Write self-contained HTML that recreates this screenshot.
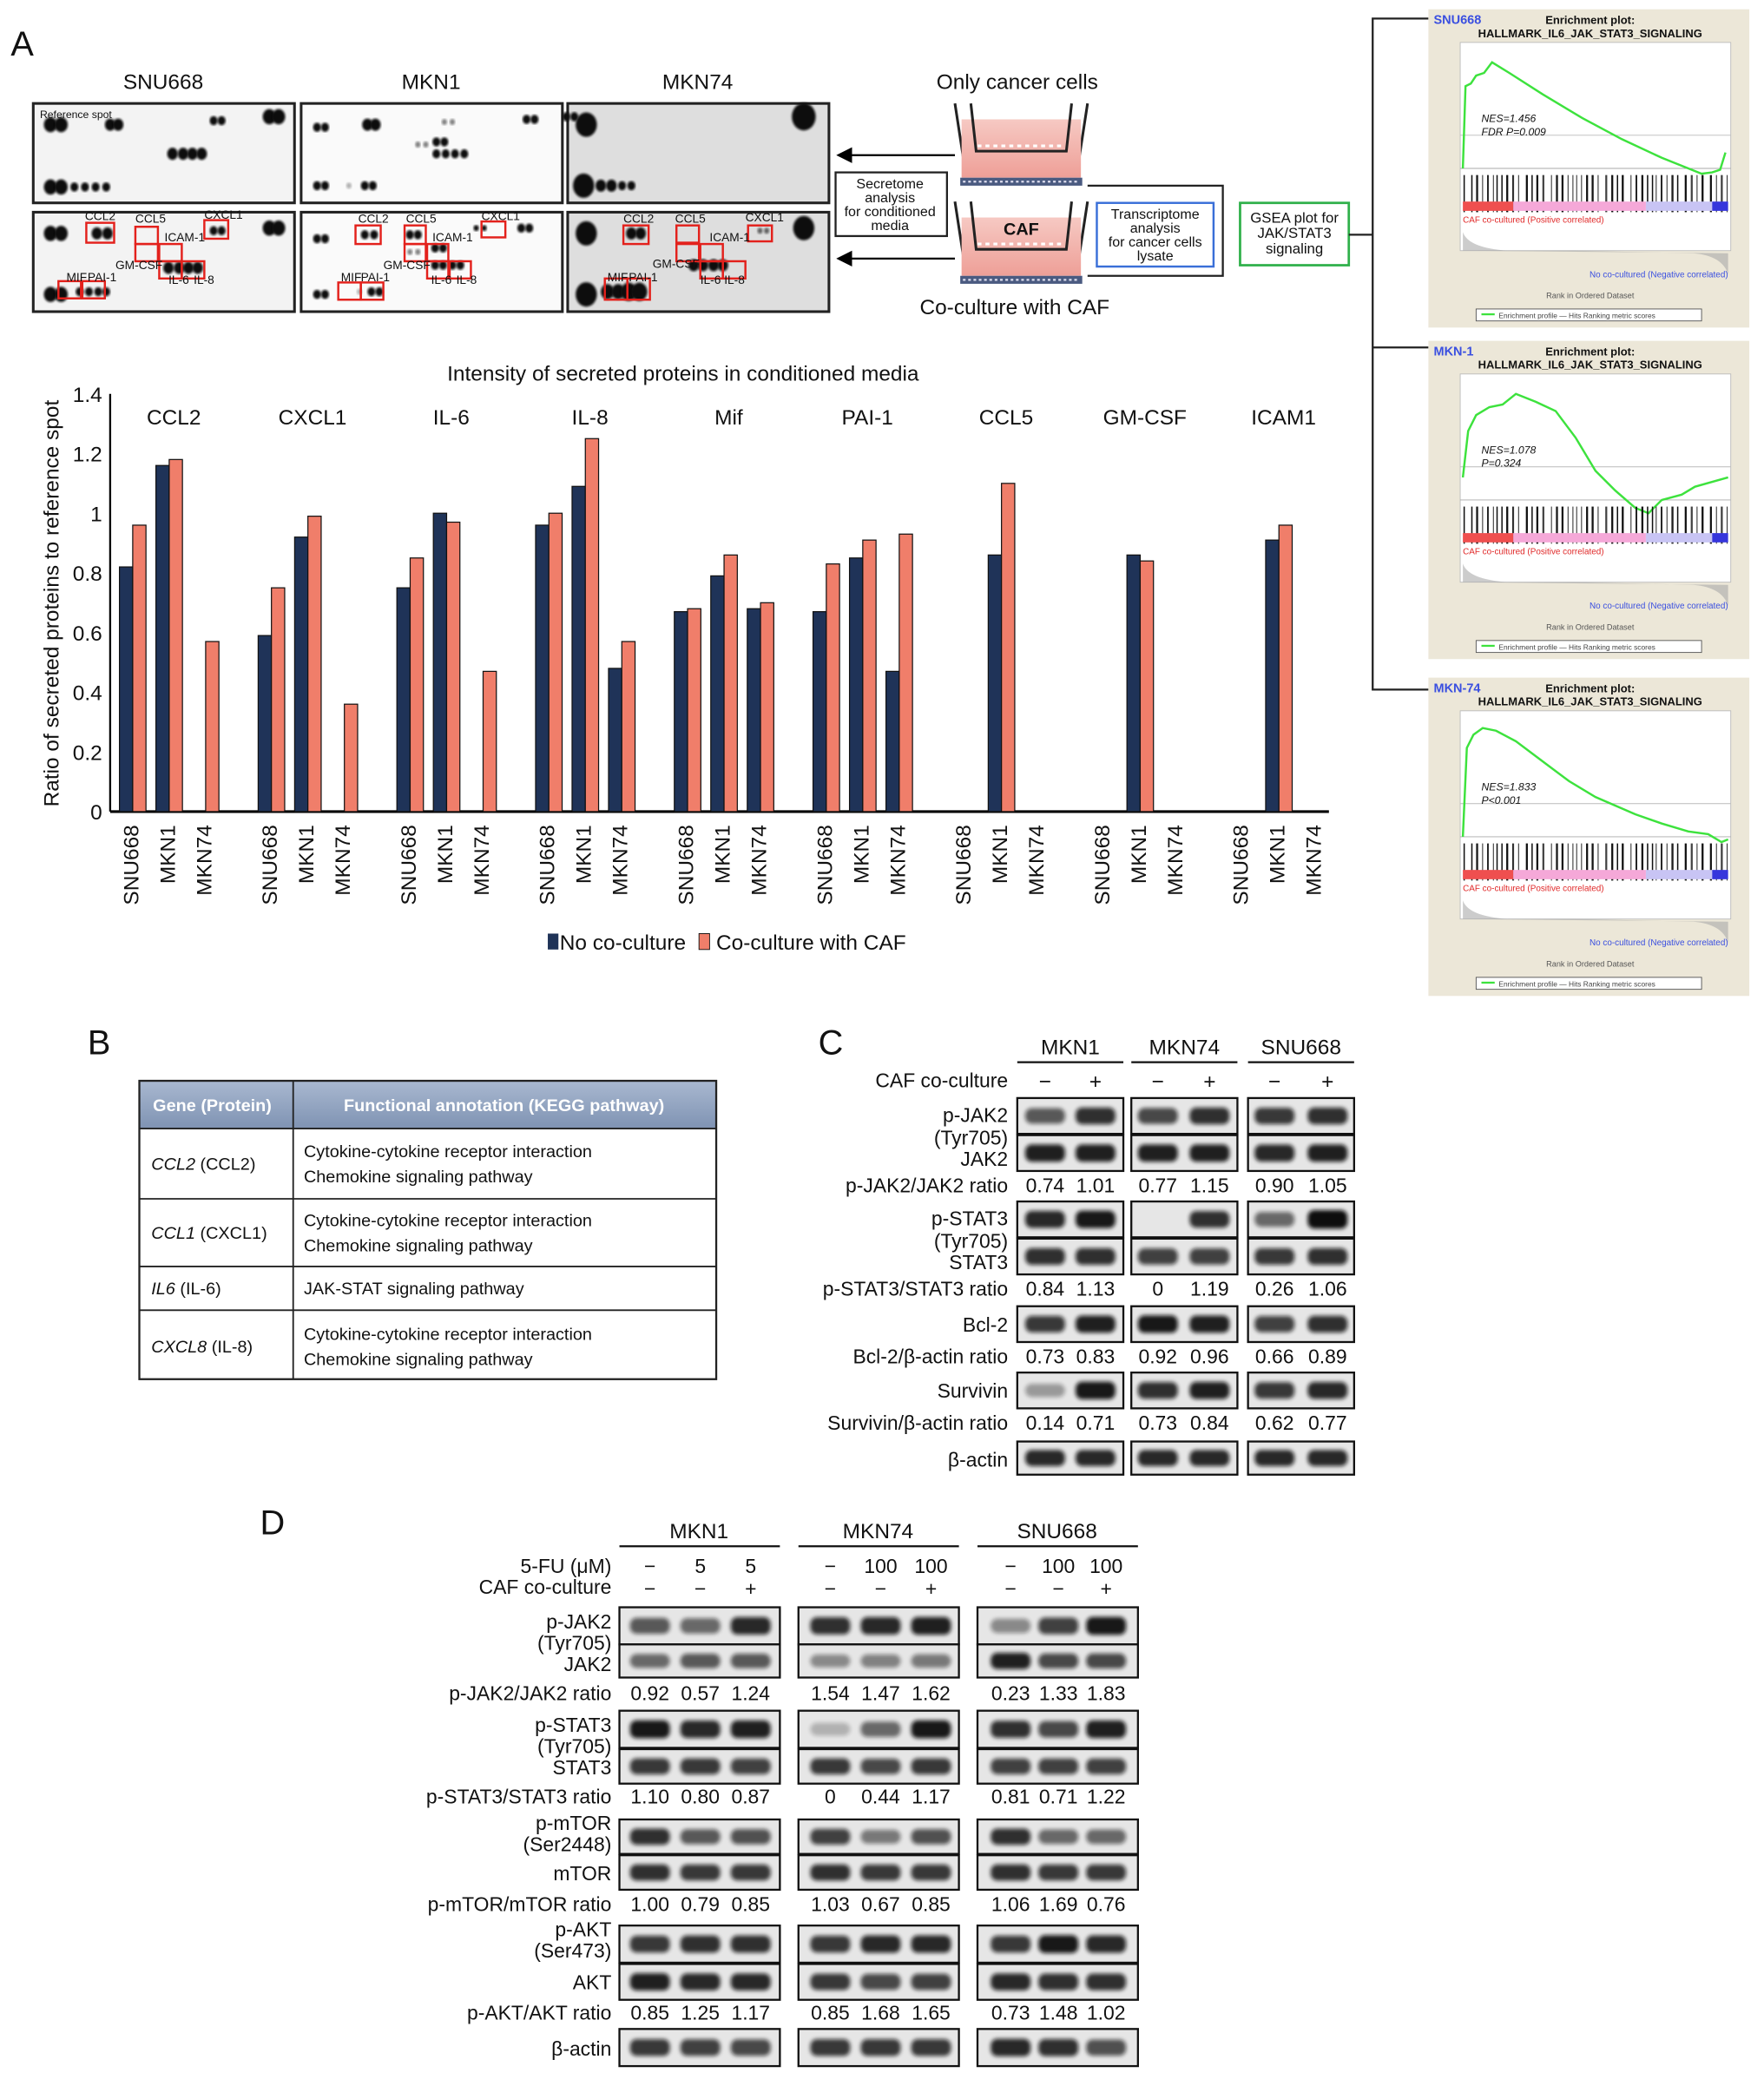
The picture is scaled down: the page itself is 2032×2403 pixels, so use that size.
<!DOCTYPE html>
<html><head><meta charset="utf-8"><style>
html,body{margin:0;padding:0;background:#fff}
svg{display:block;font-family:"Liberation Sans",Arial,sans-serif}
</style></head><body>
<svg id="fig" width="2032" height="2403" viewBox="0 0 1330 1573" xmlns="http://www.w3.org/2000/svg">
<defs>
<filter id="blur" x="-20%" y="-50%" width="140%" height="200%"><feGaussianBlur stdDeviation="1.6"/></filter>
<filter id="blur2"><feGaussianBlur stdDeviation="0.8"/></filter>
<linearGradient id="hdr" x1="0" y1="0" x2="0" y2="1"><stop offset="0" stop-color="#a9b8d0"/><stop offset="1" stop-color="#7f93b3"/></linearGradient>
<linearGradient id="pink" x1="0" y1="0" x2="0" y2="1"><stop offset="0" stop-color="#f6c9c3"/><stop offset="1" stop-color="#ee9f97"/></linearGradient>
<marker id="arr" markerWidth="8" markerHeight="8" refX="7" refY="4" orient="auto"><path d="M0,0 L8,4 L0,8 z" fill="#000"/></marker>
</defs>
<g id="root"></g>
</svg>
<script>
// ===== Chart data (panel A bar chart) =====
const proteins = ["CCL2","CXCL1","IL-6","IL-8","Mif","PAI-1","CCL5","GM-CSF","ICAM1"];
const cellLines = ["SNU668","MKN1","MKN74"];
const noCoculture = [
  [0.82,1.16,0],[0.59,0.92,0],[0.75,1.00,0],[0.96,1.09,0.48],[0.67,0.79,0.68],
  [0.67,0.85,0.47],[0,0.86,0],[0,0.86,0],[0,0.91,0]];
const withCAF = [
  [0.96,1.18,0.57],[0.75,0.99,0.36],[0.85,0.97,0.47],[1.00,1.25,0.57],[0.68,0.86,0.70],
  [0.83,0.91,0.93],[0,1.10,0],[0,0.84,0],[0,0.96,0]];
const yTicks = [0,0.2,0.4,0.6,0.8,1,1.2,1.4];
const yTickLabels = ["0","0.2","0.4","0.6","0.8","1","1.2","1.4"];

const NS="http://www.w3.org/2000/svg";
const root=document.getElementById('root');
function el(tag,attrs,parent,txt){const e=document.createElementNS(NS,tag);for(const k in attrs)e.setAttribute(k,attrs[k]);if(txt!==undefined)e.textContent=txt;(parent||root).appendChild(e);return e;}
function T(x,y,s,txt,opt){opt=opt||{};const t=el('text',{x:x,y:y,'font-size':s,'text-anchor':opt.a||'start',fill:opt.f||'#111','font-weight':opt.w||'normal','font-style':opt.i||'normal'},opt.p,txt);if(opt.tr)t.setAttribute('transform',opt.tr);return t;}

T(8,42,26,"A",{n:'panel-a-letter'});T(66,795,26,"B",{n:'panel-b-letter'});T(617,795,26,"C",{n:'panel-c-letter'});T(196,1157,26,"D",{n:'panel-d-letter'});

// ===== Dot blot arrays =====
const dotG=el('g',{});
const blotCols=[{x:25,n:"SNU668",bg:"#f3f3f3"},{x:227,n:"MKN1",bg:"#fafafa"},{x:428,n:"MKN74",bg:"#dedede"}];
blotCols.forEach((c,i)=>{T(c.x+98,67,16,c.n,{a:'middle',n:'array-title-'+c.n.toLowerCase(),p:dotG});
  [78,160].forEach((y,r)=>{const b=el('rect',{x:c.x,y:y,width:197,height:75,fill:c.bg,stroke:'#222','stroke-width':2},dotG);});});
function dots(list,ox,oy,r){list.forEach(d=>{el('ellipse',{cx:ox+d[0],cy:oy+d[1],rx:d[2]||r,ry:(d[2]||r)*1.15,fill:'#111',opacity:d[3]||1,filter:'url(#blur2)'},dotG);});}
dots([[13,16,5],[21,16,5],[58,16,4],[64,16,4],[136,13,3],[142,13,3],[178,10,5],[185,10,5],[105,38,4],[113,38,4],[120,38,4],[127,38,4],[13,63,5],[21,63,5],[31,63,3],[39,63,3],[47,63,3],[55,63,3]],25,78,4);
dots([[12,18,3],[18,18,3],[50,16,4],[56,16,4],[108,14,2,0.5],[114,14,2,0.5],[170,12,3],[176,12,3],[200,10,3],[206,10,3],[88,31,2,0.5],[94,31,2,0.5],[102,29,3],[108,29,3],[102,38,3],[109,38,3],[116,38,3],[123,38,3],[12,62,3],[18,62,3],[36,62,2,0.3],[48,62,3],[54,62,3]],227,78,3);
dots([[14,16,8],[178,10,9],[12,62,8],[25,62,4],[33,62,4],[41,62,3],[48,62,3]],428,78,4);
dots([[13,16,5],[21,16,5],[48,16,4],[56,16,4],[136,14,3],[142,14,3],[178,12,5],[185,12,5],[102,42,4],[110,42,4],[117,42,4],[124,42,4],[13,62,5],[21,62,5],[35,60,3],[42,60,3],[49,60,3],[55,60,3]],25,160,4);
dots([[12,20,3],[18,20,3],[48,17,3],[55,17,3],[82,17,3],[88,17,3],[132,12,2],[138,12,2],[166,12,3],[172,12,3],[82,30,2,0.5],[88,30,2,0.5],[101,27,3],[107,27,3],[101,40,3],[107,40,3],[114,40,3],[120,40,3],[12,62,3],[18,62,3],[44,60,2,0.3],[53,60,3],[59,60,3]],227,160,3);
dots([[14,16,8],[48,16,4],[55,16,4],[145,14,2,0.6],[150,14,2,0.6],[178,12,8],[95,40,4],[102,40,4],[110,40,4],[117,40,4],[14,62,8],[30,60,5],[38,60,5],[46,60,6],[54,60,6]],428,160,4);
function rb(x,y,w,h){el('rect',{x:x,y:y,width:w,height:h,fill:'none',stroke:'#e3211c','stroke-width':1.6},dotG);}
function sl(x,y,t){T(x,y,9,t,{n:'spot-label',p:dotG});}
rb(65,168,21,15);rb(102,171,17,13);rb(102,184,17,13);rb(120,184,17,13);rb(120,197,17,13);rb(137,197,17,13);rb(154,166,18,14);rb(44,212,17,13);rb(62,212,17,13);
sl(64,166,"CCL2");sl(102,168,"CCL5");sl(154,165,"CXCL1");sl(124,182,"ICAM-1");sl(87,203,"GM-CSF");sl(127,214,"IL-6");sl(146,214,"IL-8");sl(50,212,"MIF");sl(66,212,"PAI-1");
rb(268,170,19,14);rb(305,170,16,14);rb(305,184,16,13);rb(322,184,16,13);rb(322,197,16,13);rb(339,197,16,13);rb(363,167,18,12);rb(255,213,17,13);rb(272,213,17,13);
sl(270,168,"CCL2");sl(306,168,"CCL5");sl(363,166,"CXCL1");sl(326,182,"ICAM-1");sl(289,203,"GM-CSF");sl(325,214,"IL-6");sl(344,214,"IL-8");sl(257,212,"MIF");sl(272,212,"PAI-1");
rb(470,170,19,14);rb(510,170,17,13);rb(510,184,17,13);rb(528,184,17,13);rb(528,197,17,13);rb(545,197,17,13);rb(564,170,18,12);rb(456,210,17,16);rb(473,210,17,16);
sl(470,168,"CCL2");sl(509,168,"CCL5");sl(562,167,"CXCL1");sl(535,182,"ICAM-1");sl(492,202,"GM-CSF");sl(528,214,"IL-6");sl(546,214,"IL-8");sl(458,212,"MIF");sl(474,212,"PAI-1");
T(30,89,8,"Reference spot",{n:'reference-spot-label',p:dotG});

// ===== Schematic =====
const sch=el('g',{});
T(767,67,16,"Only cancer cells",{a:'middle',n:'only-cancer-cells-label',p:sch});
T(765,237,16,"Co-culture with CAF",{a:'middle',n:'coculture-caf-label',p:sch});
function well(y,caf){el('path',{d:`M720 ${y} L728 ${y+52} L812 ${y+52} L820 ${y}`,fill:'none',stroke:'#222','stroke-width':2},sch);
 el('rect',{x:725,y:y+12,width:90,height:44,fill:'url(#pink)'},sch);
 el('path',{d:`M732 ${y} L736 ${y+36} L804 ${y+36} L808 ${y}`,fill:'none',stroke:'#222','stroke-width':2},sch);
 el('line',{x1:737,y1:y+32,x2:803,y2:y+32,stroke:'#fff','stroke-width':2,'stroke-dasharray':'3 3'},sch);
 el('rect',{x:724,y:y+56,width:92,height:6,fill:'#4a5a80'},sch);
 el('line',{x1:726,y1:y+59,x2:814,y2:y+59,stroke:'#dde','stroke-width':1.5,'stroke-dasharray':'2 2'},sch);
 if(caf)T(770,y+25,13,"CAF",{a:'middle',w:'bold',n:'caf-label',p:sch});}
well(78,false);well(152,true);
el('rect',{x:630,y:130,width:84,height:48,fill:'#fff',stroke:'#222','stroke-width':1.5},sch);
["Secretome","analysis","for conditioned","media"].forEach((t,i)=>T(671,142+i*10.5,10.5,t,{a:'middle',n:'secretome-box-text',p:sch}));
el('line',{x1:720,y1:117,x2:632,y2:117,stroke:'#000','stroke-width':1.5,'marker-end':'url(#arr)'},sch);
el('line',{x1:720,y1:195,x2:632,y2:195,stroke:'#000','stroke-width':1.5,'marker-end':'url(#arr)'},sch);
el('polyline',{points:'820,140 922,140 922,208 820,208',fill:'none',stroke:'#222','stroke-width':1.5},sch);
el('rect',{x:827,y:153,width:88,height:48,fill:'#fff',stroke:'#3a6fd8','stroke-width':1.6},sch);
["Transcriptome","analysis","for cancer cells","lysate"].forEach((t,i)=>T(871,165+i*10.5,10.5,t,{a:'middle',n:'transcriptome-box-text',p:sch}));
el('rect',{x:935,y:153,width:82,height:47,fill:'#fff',stroke:'#2fb04a','stroke-width':1.8},sch);
["GSEA plot for","JAK/STAT3","signaling"].forEach((t,i)=>T(976,168+i*11.5,11,t,{a:'middle',n:'gsea-box-text',p:sch}));
el('polyline',{points:'1017,177 1035,177',fill:'none',stroke:'#222','stroke-width':1.5},sch);
el('polyline',{points:'1077,14 1035,14 1035,520 1077,520',fill:'none',stroke:'#222','stroke-width':1.5},sch);
el('line',{x1:1035,y1:262,x2:1077,y2:262,stroke:'#222','stroke-width':1.5},sch);

// ===== GSEA panels =====
const gseaNames=["SNU668","MKN-1","MKN-74"];
const gseaNES=[["NES=1.456","FDR P=0.009"],["NES=1.078","P=0.324"],["NES=1.833","P<0.001"]];
const gseaY=[7,257,511];
const gseaCurves=[
 "0,92 2,30 6,28 10,22 16,20 22,12 35,20 60,36 90,54 120,70 150,84 170,92 180,96 188,95 194,93 198,80",
 "0,75 4,40 10,28 20,22 30,20 40,12 55,18 70,25 85,45 100,70 115,85 130,98 140,102 150,92 165,88 175,82 200,75",
 "0,92 3,25 8,15 15,10 25,12 40,20 60,35 80,50 100,62 130,75 150,82 170,88 185,90 195,96 200,94"];
gseaY.forEach((gy,k)=>{const g=el('g',{transform:`translate(1077,${gy})`});
 el('rect',{x:0,y:0,width:242,height:240,fill:'#ece7d8'},g);
 T(4,11,9.5,gseaNames[k],{f:'#3a4fe0',w:'bold',n:'gsea-cell-line',p:g});
 T(122,11,8.5,"Enrichment plot:",{a:'middle',w:'bold',n:'gsea-title',p:g});
 T(122,21,8.5,"HALLMARK_IL6_JAK_STAT3_SIGNALING",{a:'middle',w:'bold',n:'gsea-subtitle',p:g});
 el('rect',{x:24,y:25,width:204,height:157,fill:'#fff',stroke:'#bbb','stroke-width':0.6},g);
 el('line',{x1:24,y1:120,x2:228,y2:120,stroke:'#aaa','stroke-width':0.6},g);
 el('line',{x1:24,y1:95,x2:228,y2:95,stroke:'#bbb','stroke-width':0.6},g);
 el('polyline',{points:gseaCurves[k].split(' ').map(p=>{const [a,b]=p.split(',');return (26+ +a)+','+(28+ +b);}).join(' '),fill:'none',stroke:'#3de23d','stroke-width':1.6},g);
 T(40,85,8,gseaNES[k][0],{i:'italic',n:'gsea-nes',p:g});T(40,95,8,gseaNES[k][1],{i:'italic',n:'gsea-p',p:g});
 for(let i=0;i<70;i++){const xx=27+((i*37)%199)*1+((i%7)*0.3);el('line',{x1:xx,y1:125,x2:xx,y2:153,stroke:'#111','stroke-width':(i%3==0)?1:0.6},g);}
 const bar=[["#ef4f4f",26,38],["#f5a8d8",64,100],["#c8c4f4",164,50],["#3636dc",214,12]];
 bar.forEach(b=>el('rect',{x:b[1],y:145,width:b[2],height:7,fill:b[0]},g));
 T(26,161,6.5,"CAF co-cultured (Positive correlated)",{f:'#e02828',n:'gsea-pos-label',p:g});
 el('path',{d:'M26 168 Q30 180 60 182 L110 182 L200 184 Q222 186 226 200 L226 184 L26 182 Z',fill:'#aaa',opacity:0.6},g);
 T(226,202,6.5,"No co-cultured (Negative correlated)",{a:'end',f:'#3a4fe0',n:'gsea-neg-label',p:g});
 T(122,218,6,"Rank in Ordered Dataset",{a:'middle',f:'#555',n:'gsea-x-title',p:g});
 el('rect',{x:36,y:226,width:170,height:9,fill:'#fff',stroke:'#555','stroke-width':0.6},g);
 el('line',{x1:40,y1:230,x2:50,y2:230,stroke:'#3de23d','stroke-width':1.5},g);
 T(53,233,5.5,"Enrichment profile — Hits    Ranking metric scores",{f:'#444',n:'gsea-legend',p:g});
});

// ===== Bar chart =====
const chart=el('g',{});
const X0=83,Y0=612,YS=225,GW=104.6,SW=27.5,BW=10,GX0=90;
const yPix=v=>Y0-v*YS;
const gX=(g,s)=>GX0+g*GW+s*SW;
T(515,287,16,"Intensity of secreted proteins in conditioned media",{a:'middle',n:'chart-title',p:chart});
T(44,455,16,"Ratio of secreted proteins to reference spot",{a:'middle',tr:'rotate(-90 44 455)',n:'y-axis-title',p:chart});
el('line',{x1:X0,y1:297,x2:X0,y2:Y0,stroke:'#000','stroke-width':1.5},chart);
el('line',{x1:X0,y1:Y0,x2:1002,y2:Y0,stroke:'#000','stroke-width':2},chart);
yTicks.forEach((v,i)=>{T(77,yPix(v)+6,16,yTickLabels[i],{a:'end',n:'y-tick-label',p:chart});});
proteins.forEach((p,g)=>{T(gX(g,0)+41,320,16,p,{a:'middle',n:'group-label-'+p.toLowerCase(),p:chart});
 cellLines.forEach((c,s)=>{const x=gX(g,s);
  [[noCoculture[g][s],'#1f3358'],[withCAF[g][s],'#f07e6a']].forEach((d,j)=>{if(d[0]<=0)return;
   const r=el('rect',{x:x+j*BW,y:yPix(d[0]),width:BW,height:d[0]*YS,fill:d[1],stroke:'#111','stroke-width':0.8},chart);
   
   });
  const lx=x+10,ly=622;
  T(lx,ly,16,c,{a:'end',tr:`rotate(-90 ${lx} ${ly})`,n:'x-tick-label',p:chart}).setAttribute('dominant-baseline','middle');
 });});
el('rect',{x:413,y:704,width:8,height:12,fill:'#1f3358'},chart);
T(422,716,16,"No co-culture",{n:'legend-no-coculture',p:chart});
el('rect',{x:527,y:704,width:8,height:12,fill:'#f07e6a',stroke:'#111','stroke-width':0.6},chart);
T(540,716,16,"Co-culture with CAF",{n:'legend-coculture-caf',p:chart});

// ===== Table B =====
const tb=el('g',{});
el('rect',{x:105,y:815,width:435,height:36,fill:'url(#hdr)'},tb);
el('rect',{x:105,y:815,width:435,height:225,fill:'none',stroke:'#222','stroke-width':1.5},tb);
el('line',{x1:221,y1:815,x2:221,y2:1040,stroke:'#222','stroke-width':1.2},tb);
T(160,838,13,"Gene (Protein)",{a:'middle',f:'#fff',w:'bold',n:'table-header-gene',p:tb});
T(380,838,13,"Functional annotation (KEGG pathway)",{a:'middle',f:'#fff',w:'bold',n:'table-header-annotation',p:tb});
[851,904,955,988].forEach(y=>el('line',{x1:105,y1:y,x2:540,y2:y,stroke:'#222','stroke-width':1.2},tb));
const rows=[["CCL2"," (CCL2)",877,["Cytokine-cytokine receptor interaction","Chemokine signaling pathway"]],
 ["CCL1"," (CXCL1)",929,["Cytokine-cytokine receptor interaction","Chemokine signaling pathway"]],
 ["IL6"," (IL-6)",971,["JAK-STAT signaling pathway"]],
 ["CXCL8"," (IL-8)",1015,["Cytokine-cytokine receptor interaction","Chemokine signaling pathway"]]];
rows.forEach(r=>{const t=el('text',{x:114,y:r[2]+5,'font-size':13,fill:'#111'},tb);
 el('tspan',{'font-style':'italic'},t,r[0]);el('tspan',{},t,r[1]);
 r[3].forEach((l,i)=>T(229,r[2]-(r[3].length-1)*9.5+i*19+5,13,l,{n:'annotation-text',p:tb}));});

// ===== Western blot helper =====
function blotBox(g,x,y,w,h,ints,lanes){el('rect',{x:x,y:y,width:w,height:h,fill:'#e6e6e6',stroke:'#111','stroke-width':1.5},g);
 ints.forEach((v,i)=>{if(v<=0.02)return;const cx=lanes[i];el('rect',{x:cx-15,y:y+h/2-h*0.17-v*2,width:30,height:h*0.34+v*4,rx:5,fill:'#111',opacity:Math.min(1,0.2+v*0.75),filter:'url(#blur)'},g);});}

// ===== Panel C =====
const pc=el('g',{});
const cCols=[{x:767,n:"MKN1",l:[788,826]},{x:853,n:"MKN74",l:[873,912]},{x:941,n:"SNU668",l:[961,1001]}];
cCols.forEach(c=>{T(c.x+40,795,16,c.n,{a:'middle',n:'blot-col-'+c.n.toLowerCase(),p:pc});el('line',{x1:c.x,y1:801,x2:c.x+80,y2:801,stroke:'#111','stroke-width':1.5},pc);
 T(c.l[0],821,16,"−",{a:'middle',n:'minus',p:pc});T(c.l[1],821,16,"+",{a:'middle',n:'plus',p:pc});});
T(760,820,15,"CAF co-culture",{a:'end',n:'caf-coculture-label',p:pc});
const cRows=[["p-JAK2",828,[[0.6,0.85],[0.7,0.85],[0.8,0.85]]],["JAK2",856,[[0.95,0.95],[0.95,0.95],[0.9,0.95]]],
 ["p-STAT3",906,[[0.9,1],[0,0.85],[0.5,1.2]]],["STAT3",934,[[0.85,0.85],[0.75,0.75],[0.8,0.85]]],
 ["Bcl-2",985,[[0.8,0.95],[1,0.95],[0.75,0.85]]],["Survivin",1035,[[0.2,1],[0.85,0.95],[0.8,0.9]]],["β-actin",1087,[[0.9,0.9],[0.9,0.9],[0.9,0.9]]]];
cRows.forEach(r=>{cCols.forEach((c,i)=>blotBox(pc,c.x,r[1],80,r[0]=="β-actin"?25:27,r[2][i],c.l));});
T(760,846,15,"p-JAK2",{a:'end',n:'row-label',p:pc});T(760,863,15,"(Tyr705)",{a:'end',n:'row-label',p:pc});T(760,879,15,"JAK2",{a:'end',n:'row-label',p:pc});
T(760,924,15,"p-STAT3",{a:'end',n:'row-label',p:pc});T(760,941,15,"(Tyr705)",{a:'end',n:'row-label',p:pc});T(760,957,15,"STAT3",{a:'end',n:'row-label',p:pc});
T(760,1004,15,"Bcl-2",{a:'end',n:'row-label',p:pc});T(760,1054,15,"Survivin",{a:'end',n:'row-label',p:pc});T(760,1106,15,"β-actin",{a:'end',n:'row-label',p:pc});
const cRatio=[["p-JAK2/JAK2 ratio",899,["0.74","1.01","0.77","1.15","0.90","1.05"]],["p-STAT3/STAT3 ratio",977,["0.84","1.13","0","1.19","0.26","1.06"]],
 ["Bcl-2/β-actin ratio",1028,["0.73","0.83","0.92","0.96","0.66","0.89"]],["Survivin/β-actin ratio",1078,["0.14","0.71","0.73","0.84","0.62","0.77"]]];
cRatio.forEach(r=>{T(760,r[1],15,r[0],{a:'end',n:'ratio-label',p:pc});r[2].forEach((v,i)=>T(cCols[i>>1].l[i&1],r[1],15,v,{a:'middle',n:'ratio-value',p:pc}));});

// ===== Panel D =====
const pd=el('g',{});
const dCols=[{x:467,n:"MKN1",l:[490,528,566],f:["−","5","5"],c:["−","−","+"]},{x:602,n:"MKN74",l:[626,664,702],f:["−","100","100"],c:["−","−","+"]},{x:737,n:"SNU668",l:[762,798,834],f:["−","100","100"],c:["−","−","+"]}];
dCols.forEach(c=>{T(c.x+60,1160,16,c.n,{a:'middle',n:'blot-col-'+c.n.toLowerCase(),p:pd});el('line',{x1:c.x,y1:1166,x2:c.x+121,y2:1166,stroke:'#111','stroke-width':1.5},pd);
 c.l.forEach((lx,i)=>{T(lx,1186,15,c.f[i],{a:'middle',n:'fu-dose',p:pd});T(lx,1203,15,c.c[i],{a:'middle',n:'caf-sign',p:pd});});});
T(461,1186,15,"5-FU (μM)",{a:'end',n:'5fu-label',p:pd});T(461,1202,15,"CAF co-culture",{a:'end',n:'caf-coculture-label',p:pd});
const dRows=[[1212,28,[[0.6,0.5,0.9],[0.85,0.9,0.95],[0.3,0.75,1]]],[1240,25,[[0.5,0.6,0.6],[0.3,0.35,0.4],[0.95,0.7,0.7]]],
 [1290,28,[[1,0.9,0.95],[0.05,0.5,1],[0.85,0.7,0.95]]],[1319,26,[[0.8,0.8,0.75],[0.8,0.7,0.8],[0.75,0.75,0.75]]],
 [1372,26,[[0.85,0.6,0.65],[0.75,0.4,0.65],[0.85,0.5,0.5]]],[1399,26,[[0.85,0.8,0.8],[0.85,0.8,0.8],[0.85,0.8,0.8]]],
 [1452,28,[[0.8,0.85,0.85],[0.8,0.9,0.9],[0.8,1,0.9]]],[1481,27,[[0.95,0.9,0.9],[0.8,0.7,0.75],[0.9,0.85,0.85]]],[1530,28,[[0.8,0.75,0.7],[0.8,0.8,0.8],[0.9,0.85,0.65]]]];
dRows.forEach(r=>dCols.forEach((c,i)=>blotBox(pd,c.x,r[0],121,r[1],r[2][i],c.l)));
[["p-JAK2",1228],["(Tyr705)",1244],["JAK2",1260],["p-STAT3",1306],["(Tyr705)",1322],["STAT3",1338],["p-mTOR",1380],["(Ser2448)",1396],["mTOR",1418],["p-AKT",1460],["(Ser473)",1476],["AKT",1500],["β-actin",1550]].forEach(l=>T(461,l[1],15,l[0],{a:'end',n:'row-label',p:pd}));
const dRatio=[["p-JAK2/JAK2 ratio",1282,["0.92","0.57","1.24","1.54","1.47","1.62","0.23","1.33","1.83"]],
 ["p-STAT3/STAT3 ratio",1360,["1.10","0.80","0.87","0","0.44","1.17","0.81","0.71","1.22"]],
 ["p-mTOR/mTOR ratio",1441,["1.00","0.79","0.85","1.03","0.67","0.85","1.06","1.69","0.76"]],
 ["p-AKT/AKT ratio",1523,["0.85","1.25","1.17","0.85","1.68","1.65","0.73","1.48","1.02"]]];
dRatio.forEach(r=>{T(461,r[1],15,r[0],{a:'end',n:'ratio-label',p:pd});r[2].forEach((v,i)=>T(dCols[Math.floor(i/3)].l[i%3],r[1],15,v,{a:'middle',n:'ratio-value',p:pd}));});
</script>
</body></html>
